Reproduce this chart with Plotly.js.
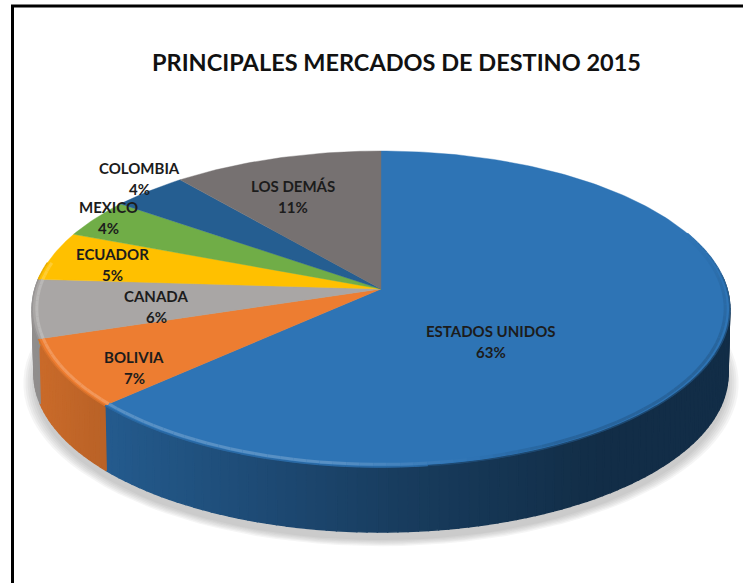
<!DOCTYPE html>
<html><head><meta charset="utf-8">
<script src="https://cdn.plot.ly/plotly-3.0.1.min.js"></script>
<style>html,body{margin:0;padding:0;background:#fff}#c{width:743px;height:583px}</style>
</head><body><div id="c"></div>
<script>
const chartTitle = 'PRINCIPALES MERCADOS DE DESTINO 2015';
const categories = ['ESTADOS UNIDOS','BOLIVIA','CANADA','ECUADOR','MEXICO','COLOMBIA','LOS DEMÁS'];
const values = [63,7,6,5,4,4,11];
const colors = ['#2e74b5','#ed7d31','#a9a6a5','#ffc000','#70ad47','#255e91','#767171'];
const labelX = [491,134,156,112,108,139,293];
const labelY = [331,357,296,254,207,168,186];

// projection of the tilted disc
const cx=381, cy=289, R=346, S=155.5, K=0.1266, DEPTH=65;
function pt(deg,r,d){
  const t=deg*Math.PI/180, u=r*Math.sin(t), v=-r*Math.cos(t), w=1-K*v;
  let x=cx+R*u/w, y=cy+S*v/w;
  if(d){x=cx+(x-cx)*0.995; y+=d;}
  return [x,y];
}
function shade(x){
  const xs=[30,105,400,600,743], fs=[0.86,0.78,0.52,0.39,0.39];
  for(let i=1;i<xs.length;i++) if(x<=xs[i]){
    const a=(x-xs[i-1])/(xs[i]-xs[i-1]); return fs[i-1]+a*(fs[i]-fs[i-1]);
  }
  return 0.39;
}
function rgb(h){return [1,3,5].map(i=>parseInt(h.substr(i,2),16));}
function mul(h,f){return 'rgb('+rgb(h).map(c=>Math.round(c*f)).join(',')+')';}
function lighten(h,a){return 'rgb('+rgb(h).map(c=>Math.round(c+(255-c)*a)).join(',')+')';}

const traces=[];
function poly(xs,ys,fill,line,lw){
  traces.push({type:'scatter',mode:'lines',x:xs,y:ys,fill:'toself',fillcolor:fill,
    line:{color:line||fill,width:lw===undefined?1.4:lw},hoverinfo:'skip',showlegend:false});
}
function seg(xs,ys,color,w){
  traces.push({type:'scatter',mode:'lines',x:xs,y:ys,line:{color:color,width:w},hoverinfo:'skip',showlegend:false});
}

// soft shadow
[1.030,1.024,1.018,1.012,1.006,1.0].forEach(s=>{
  const xs=[],ys=[];
  for(let a=0;a<=360;a+=3){const p=pt(a,s,DEPTH+8);xs.push(p[0]);ys.push(p[1]);}
  poly(xs,ys,'rgba(120,120,120,0.07)','rgba(0,0,0,0)',0);
});

// slice angle limits from the values
const total=values.reduce((a,b)=>a+b,0);
const starts=[],ends=[]; let acc=0;
values.forEach(v=>{starts.push(acc/total*360);acc+=v;ends.push(acc/total*360);});

// walls
values.forEach((v,i)=>{
  const a0=Math.max(starts[i],85), a1=Math.min(ends[i],275);
  if(a1<=a0) return;
  const n=Math.ceil((a1-a0)/1.5);
  for(let j=0;j<n;j++){
    const p=a0+(a1-a0)*j/n, q=a0+(a1-a0)*(j+1)/n;
    const A=pt(p,1,0),B=pt(q,1,0),C=pt(q,1,DEPTH),D=pt(p,1,DEPTH);
    poly([A[0],B[0],C[0],D[0],A[0]],[A[1],B[1],C[1],D[1],A[1]],mul(colors[i],shade((A[0]+B[0])/2)));
  }
});

// top faces
values.forEach((v,i)=>{
  const xs=[cx],ys=[cy], n=Math.ceil(ends[i]-starts[i]);
  for(let j=0;j<=n;j++){const p=pt(starts[i]+(ends[i]-starts[i])*j/n,1,0);xs.push(p[0]);ys.push(p[1]);}
  xs.push(cx);ys.push(cy);
  poly(xs,ys,colors[i],colors[i],0.4);
});

// bevel along the front rim
values.forEach((v,i)=>{
  const a0=Math.max(starts[i],68), a1=Math.min(ends[i],280);
  if(a1<=a0) return;
  const n=Math.ceil((a1-a0)/2);
  for(let j=0;j<n;j++){
    const p=a0+(a1-a0)*j/n, q=a0+(a1-a0)*(j+1)/n;
    const A=pt(p,1.0,0),B=pt(q,1.0,0);
    const Hi=pt(p,0.987,0),Hj=pt(q,0.987,0);
    const mx=(A[0]+B[0])/2;
    const t=Math.min(1,Math.max(0,((p+q)/2-68)/45));
    seg([A[0],B[0]],[A[1],B[1]],mul(colors[i],mx<430?0.9:1-0.38*t),1.5);
    if(mx<470){
      const a=mx<330?0.2:0.2*(470-mx)/140;
      seg([Hi[0],Hj[0]],[Hi[1],Hj[1]],lighten(colors[i],a),3);
    } else {
      const f=mx>560?1-0.14*t:1-0.14*t*(mx-470)/90;
      seg([Hi[0],Hj[0]],[Hi[1],Hj[1]],mul(colors[i],f),3);
    }
  }
});

const font='Lato, "Open Sans", sans-serif';
const labelStyle={family:font,size:15,color:'#1c1c1c'};
const annotations=[];
categories.forEach((c,i)=>{
  annotations.push({xref:'x',yref:'y',x:labelX[i],y:labelY[i],showarrow:false,xanchor:'center',yanchor:'middle',
    text:'<b>'+c+'</b>',font:labelStyle});
  annotations.push({xref:'x',yref:'y',x:labelX[i],y:labelY[i]+21,showarrow:false,xanchor:'center',yanchor:'middle',
    text:'<b>'+Math.round(values[i]/total*100)+'%</b>',font:labelStyle});
});
annotations.push({xref:'x',yref:'y',x:396,y:62,showarrow:false,xanchor:'center',yanchor:'middle',
  text:'<b>'+chartTitle+'</b>',font:{family:font,size:23.5,color:'#111'}});

const ax=r=>({range:r,visible:false,fixedrange:true,showgrid:false,zeroline:false});
Plotly.newPlot('c',traces,{
  width:743,height:583,margin:{l:0,r:0,t:0,b:0},paper_bgcolor:'#fff',plot_bgcolor:'#fff',
  xaxis:ax([0,743]),yaxis:ax([583,0]),showlegend:false,annotations,
  shapes:[
    {type:'line',xref:'x',yref:'y',x0:12.5,x1:12.5,y0:5,y1:583,line:{color:'#000',width:3}},
    {type:'line',xref:'x',yref:'y',x0:11,x1:743,y0:6,y1:6,line:{color:'#000',width:3}}
  ]
},{displayModeBar:false,staticPlot:true});
</script></body></html>
